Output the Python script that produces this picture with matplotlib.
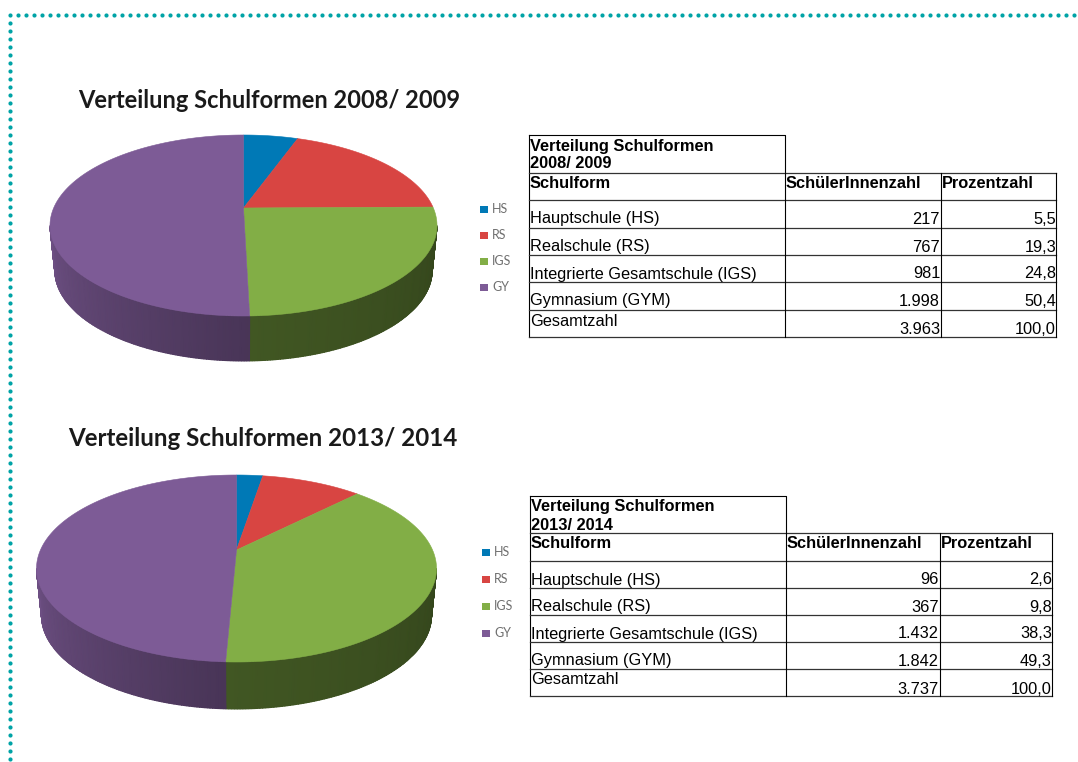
import numpy as np
import matplotlib
matplotlib.use("Agg")
import matplotlib.pyplot as plt
from matplotlib.patches import Polygon, Rectangle

# Values from the two tables
schools = ["Hauptschule (HS)", "Realschule (RS)", "Integrierte Gesamtschule (IGS)", "Gymnasium (GYM)"]
legend_labels = ["HS", "RS", "IGS", "GY"]
students_0809 = [217, 767, 981, 1998]
students_1314 = [96, 367, 1432, 1842]
percent_0809 = ["5,5", "19,3", "24,8", "50,4"]
percent_1314 = ["2,6", "9,8", "38,3", "49,3"]
count_labels_0809 = ["217", "767", "981", "1.998"]
count_labels_1314 = ["96", "367", "1.432", "1.842"]
total_0809 = "3.963"
total_1314 = "3.737"

colors = ["#0079b6", "#d84542", "#82ae46", "#7d5b96"]
# side shading of each slice, (right end, left end) of the visible wall
side_shades = [(0.5, 0.5), (0.5, 0.5), (0.40, 0.50), (0.58, 0.88)]

fig = plt.figure(figsize=(10.78, 7.62), dpi=100)
ax = fig.add_axes([0, 0, 1, 1])
ax.set_xlim(0, 1078)
ax.set_ylim(762, 0)
ax.axis("off")

TEAL = "#00a3a6"
TITLE_FONT = "Lato"
TABLE_FONT = "Liberation Sans"


def dotted_frame():
    top = np.arange(18, 1078, 8)
    left = np.arange(15, 762, 8)
    ax.plot(top, np.full(len(top), 15), "o", color=TEAL, ms=3, mew=0)
    ax.plot(np.full(len(left), 10), left, "o", color=TEAL, ms=3, mew=0)


def pie_3d(values, cx, apex_y, half_width, top_len, bottom_len, depth):
    # perspective view of a circle, apex is not in the middle of the ellipse
    k = (bottom_len - top_len) / (bottom_len + top_len)
    big_b = top_len * (1 + k)
    big_a = half_width * np.sqrt(1 - k ** 2)

    def project(theta):
        u, v = np.sin(theta), np.cos(theta)
        d = 1 + k * v
        return cx + big_a * u / d, apex_y - big_b * v / d

    fractions = np.cumsum([0] + list(values)) / sum(values)
    angles = fractions * 2 * np.pi
    wall_start = np.arccos(-k)
    wall_end = 2 * np.pi - wall_start

    # wall first, smooth shading along the visible part
    for i in range(len(values)):
        t0, t1 = max(angles[i], wall_start), min(angles[i + 1], wall_end)
        if t1 <= t0:
            continue
        steps = np.linspace(t0, t1, 120)
        xs, ys = project(steps)
        mesh_x = np.vstack([xs, cx + 0.975 * (xs - cx)])
        mesh_y = np.vstack([ys, ys + depth])
        shade = np.linspace(side_shades[i][0], side_shades[i][1], len(steps))
        rgb = np.outer(shade, matplotlib.colors.to_rgb(colors[i]))
        ax.pcolormesh(mesh_x, mesh_y, np.stack([rgb, rgb]), shading="gouraud", zorder=2)

    # top surface
    for i in range(len(values)):
        arc = np.linspace(angles[i], angles[i + 1], 200)
        xs, ys = project(arc)
        pts = [(cx, apex_y)] + list(zip(xs, ys))
        ax.add_patch(Polygon(pts, closed=True, facecolor=colors[i], edgecolor=colors[i],
                             lw=0.4, zorder=3))


def pie_legend(x, ys):
    for label, color, y in zip(legend_labels, colors, ys):
        ax.add_patch(Rectangle((x - 4, y - 3.5), 8, 7, facecolor=color, edgecolor="none"))
        ax.text(x + 8, y, label, fontsize=9, color="#6f6f6f", family=TITLE_FONT, va="center", ha="left")


def cell(x, y, s, ha="left", bold=False):
    ax.text(x, y + 3, s, fontsize=11.8, family=TABLE_FONT, ha=ha, va="center",
            fontweight="bold" if bold else "normal", color="black")


def data_table(cols, title_top, rows_y, title_lines, title_ys, text_ys, total_ys,
               count_labels, percents, total):
    c0, c1, c2, c3 = cols
    # lines
    ax.plot([c0, c1, c1], [title_top, title_top, rows_y[0]], color="black", lw=0.8)
    ax.plot([c0, c0], [title_top, rows_y[-1]], color="black", lw=0.8)
    for y in rows_y:
        ax.plot([c0, c3], [y, y], color="#333333", lw=0.9)
    for c in (c1, c2, c3):
        ax.plot([c, c], [rows_y[0], rows_y[-1]], color="black", lw=0.8)
    # text
    for line, y in zip(title_lines, title_ys):
        cell(c0 + 1, y, line, bold=True)
    cell(c0 + 1, text_ys[0], "Schulform", bold=True)
    cell(c1 + 1, text_ys[0], "SchülerInnenzahl", bold=True)
    cell(c2 + 1, text_ys[0], "Prozentzahl", bold=True)
    for name, n, p, y in zip(schools, count_labels, percents, text_ys[1:]):
        cell(c0 + 1, y, name)
        cell(c2 - 1, y, n, ha="right")
        cell(c3, y, p, ha="right")
    cell(c0 + 1, total_ys[0], "Gesamtzahl")
    cell(c2 - 1, total_ys[1], total, ha="right")
    cell(c3, total_ys[1], "100,0", ha="right")


dotted_frame()

ax.text(269, 100, "Verteilung Schulformen 2008/ 2009", fontsize=17, fontweight="bold",
        family=TITLE_FONT, ha="center", va="center", color="#1a1a1a")
pie_3d(students_0809, 243.5, 208, 193.5, 73, 108, 45)
pie_legend(484, [209, 235, 261, 287])
data_table((529, 785, 941, 1056), 135, [173, 200, 228, 255, 282, 310, 337],
           ["Verteilung Schulformen", "2008/ 2009"], [143, 161],
           [180, 216, 244, 271, 298], (318, 327),
           count_labels_0809, percent_0809, total_0809)

ax.text(263, 438, "Verteilung Schulformen 2013/ 2014", fontsize=17.4, fontweight="bold",
        family=TITLE_FONT, ha="center", va="center", color="#1a1a1a")
pie_3d(students_1314, 236.5, 550, 200, 75, 112, 47)
pie_legend(486, [552, 579, 606, 633])
data_table((530, 786, 940, 1052), 496, [533, 561, 588, 615, 642, 669, 696],
           ["Verteilung Schulformen", "2013/ 2014"], [504, 522],
           [541, 577, 604, 631, 658], (676, 686),
           count_labels_1314, percent_1314, total_1314)

fig.savefig("out.png", dpi=100)
